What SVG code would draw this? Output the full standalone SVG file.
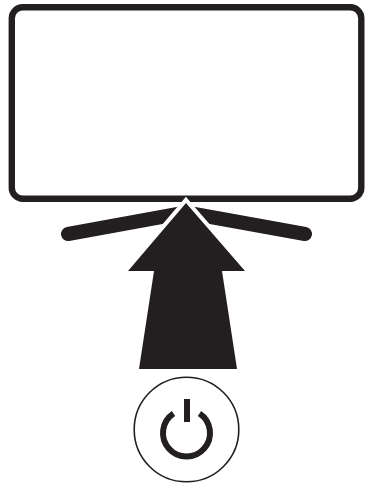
<svg xmlns="http://www.w3.org/2000/svg" width="365" height="483" viewBox="0 0 365 483">
<style>
.k{fill:none;stroke:#231f20}
</style>
<rect width="365" height="483" fill="#fff"/>
<g id="tv">
<rect class="k" x="11.8" y="7.3" width="349.5" height="191.5" rx="11" stroke-width="6.4"/>
<path class="k" d="M68 234L186 212.5M305 234L186 212.5" stroke-width="14" stroke-linecap="round"/>
</g>
<g id="arrow">
<path d="M186 203L245 271H222L237 369H139L154 271H128Z" fill="#231f20" stroke="#fff" stroke-width="8" stroke-miterlimit="10" paint-order="stroke"/>
</g>
<g id="power">
<circle class="k" cx="186.5" cy="429.5" r="52.3" stroke-width="1.6"/>
<path class="k" d="M173.5 413.5A23.5 23.5 0 1 0 199.5 413.5" stroke-width="6"/>
<path class="k" d="M187 399V422" stroke-width="6"/>
</g>
</svg>
